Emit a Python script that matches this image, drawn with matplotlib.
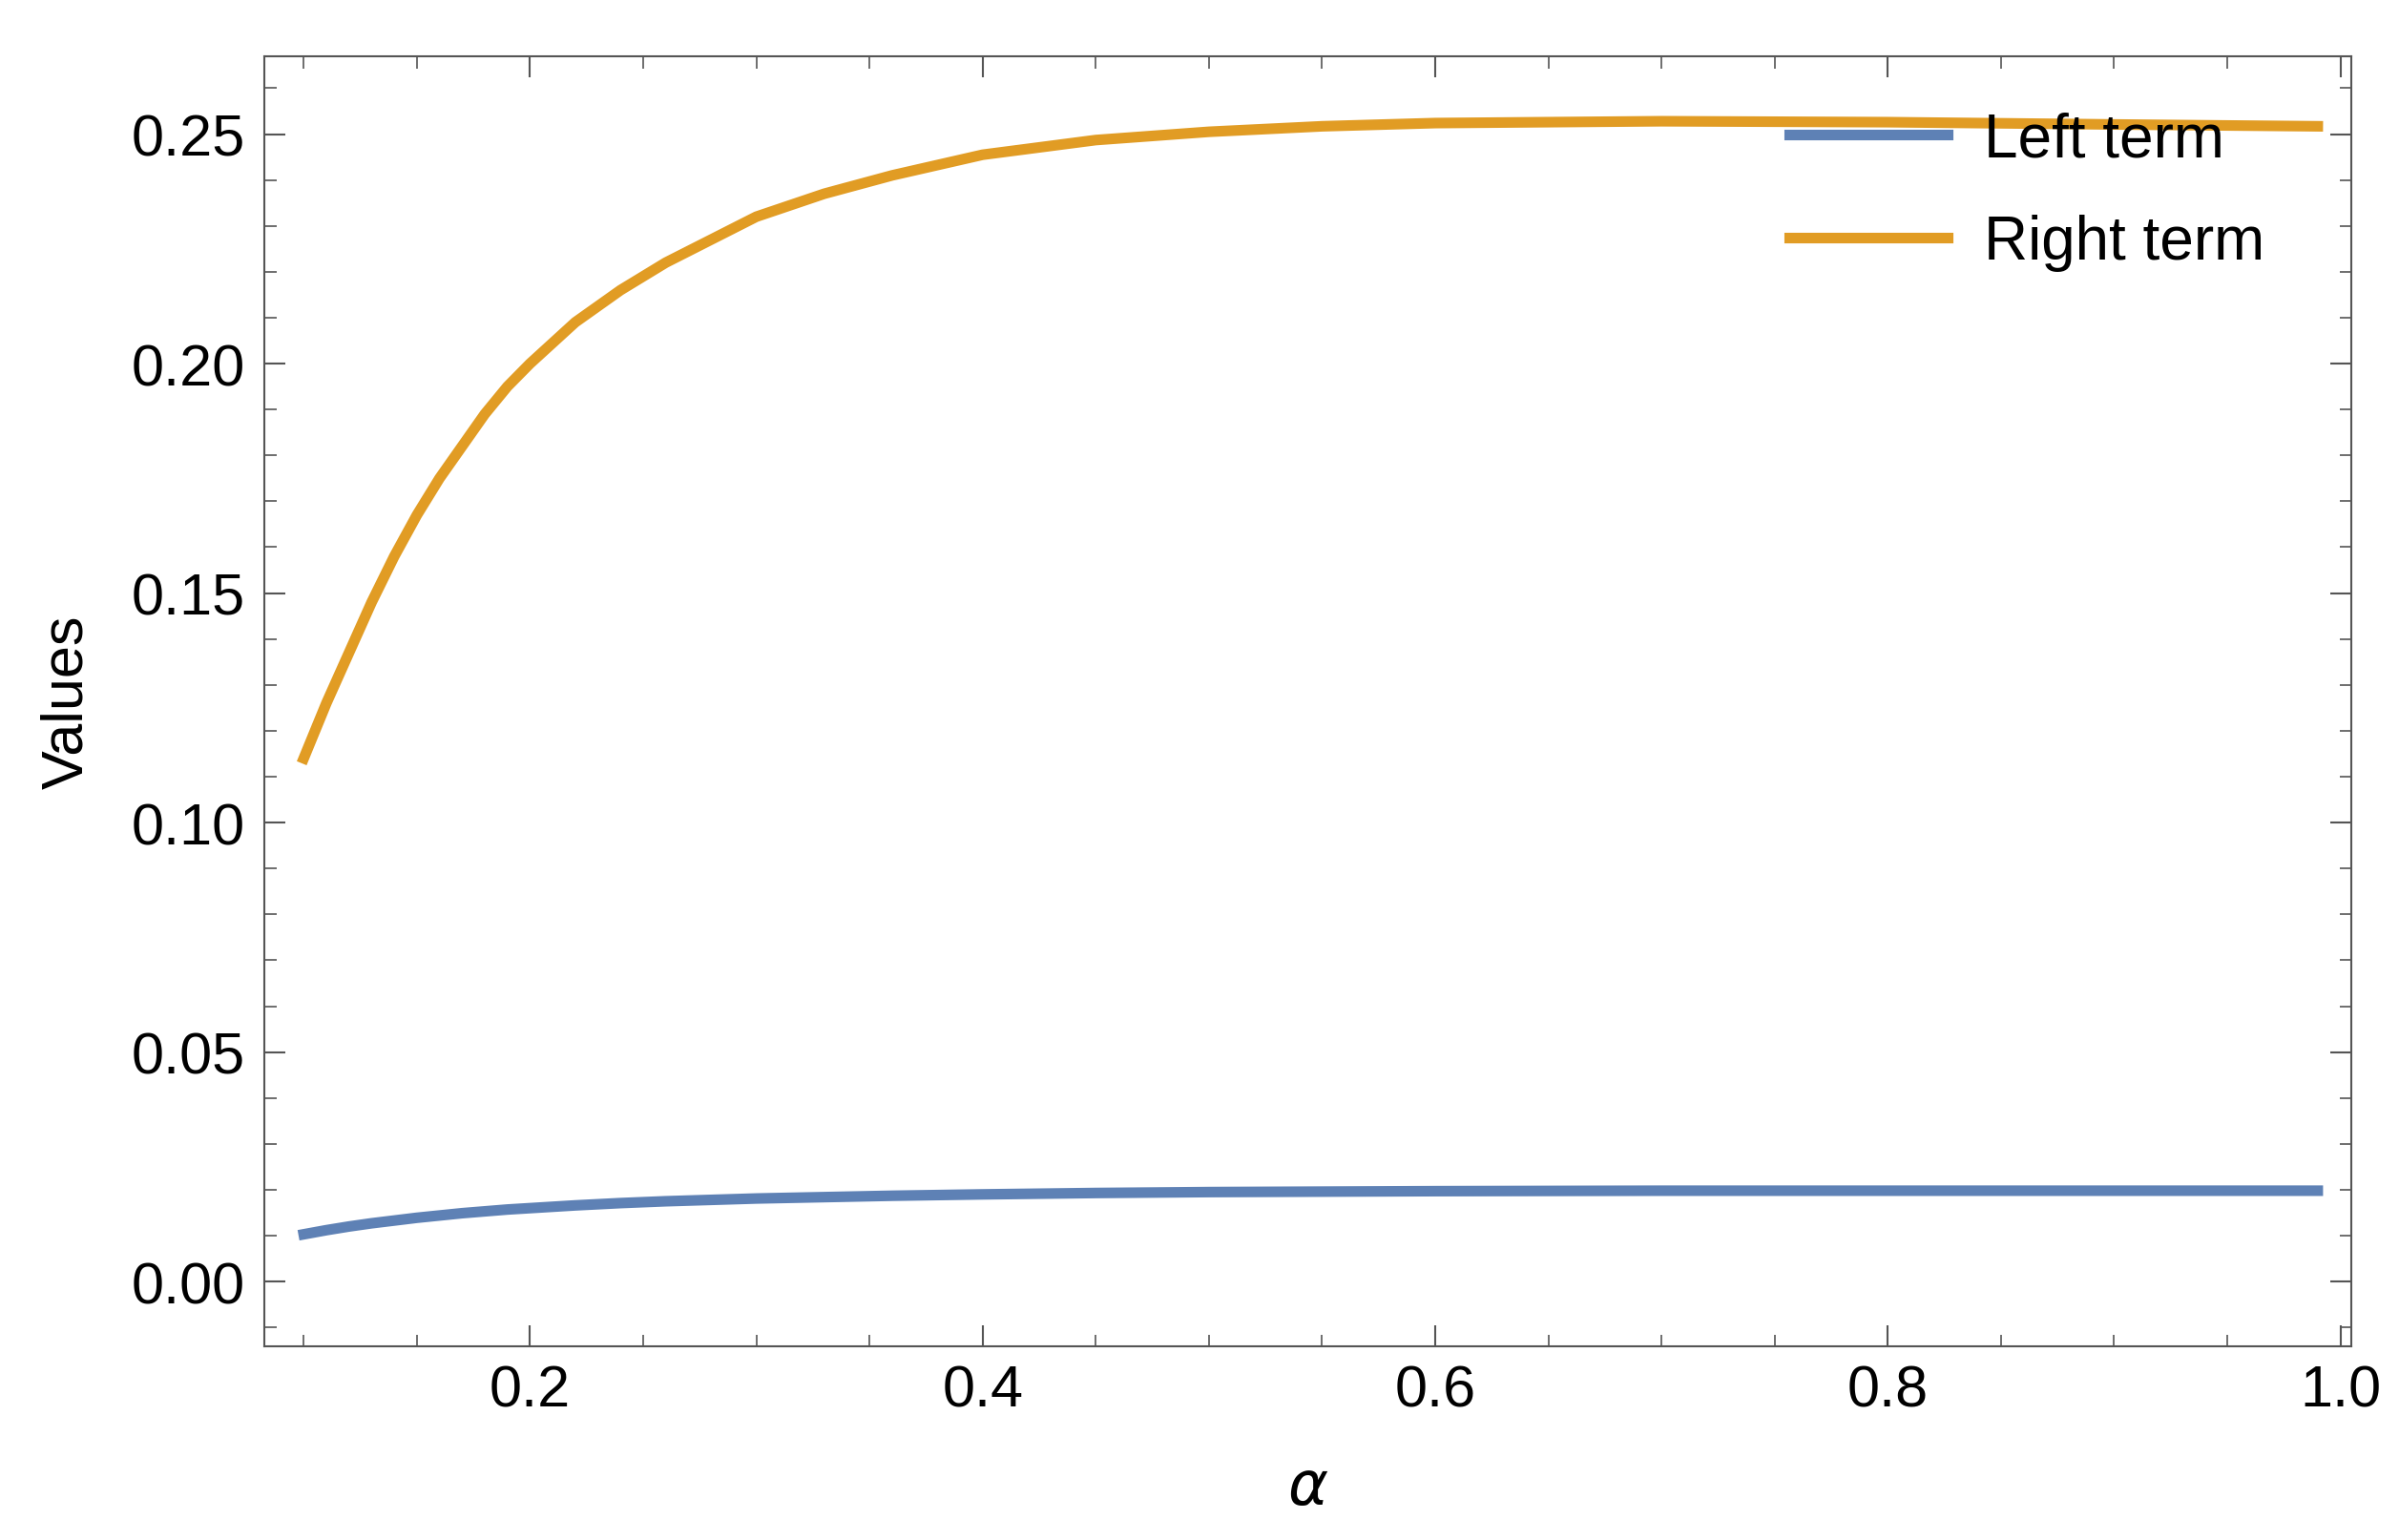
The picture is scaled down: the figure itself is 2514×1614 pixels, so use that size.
import matplotlib
matplotlib.use("Agg")
import matplotlib.pyplot as plt
from matplotlib.ticker import MultipleLocator, FormatStrFormatter

plt.rcParams["font.family"] = ["Liberation Sans", "DejaVu Sans"]

alpha = [0.1, 0.11, 0.12, 0.13, 0.14, 0.15, 0.16, 0.17, 0.18, 0.19, 0.2, 0.22, 0.24, 0.26,
         0.28, 0.3, 0.33, 0.36, 0.4, 0.45, 0.5, 0.55, 0.6, 0.7, 0.8, 0.9, 0.99]
right_term = [0.114, 0.126, 0.137, 0.148, 0.158, 0.167, 0.175, 0.182, 0.189, 0.195, 0.200,
              0.209, 0.216, 0.222, 0.227, 0.232, 0.237, 0.241, 0.2455, 0.2487, 0.2505,
              0.2517, 0.2524, 0.2528, 0.2526, 0.2521, 0.2517]
left_term = [0.0103, 0.0112, 0.0120, 0.0127, 0.0133, 0.0139, 0.0144, 0.0149, 0.0153, 0.0157,
             0.0160, 0.0166, 0.0171, 0.0175, 0.0178, 0.0181, 0.0184, 0.0187, 0.0190, 0.0193,
             0.0195, 0.0196, 0.0197, 0.0198, 0.0198, 0.0198, 0.0198]

fig = plt.figure(figsize=(25.14, 16.15), dpi=100)
ax = fig.add_axes([0.110, 0.126, 0.870, 0.837])
ax.plot(alpha, left_term, color="#5e81b5", lw=8, label="Left term")
ax.plot(alpha, right_term, color="#e19c24", lw=8, label="Right term")

ax.set_xlim(0.0824, 1.0047)
ax.set_ylim(-0.014, 0.267)
ax.xaxis.set_major_locator(MultipleLocator(0.2))
ax.xaxis.set_minor_locator(MultipleLocator(0.05))
ax.yaxis.set_major_locator(MultipleLocator(0.05))
ax.yaxis.set_minor_locator(MultipleLocator(0.01))
ax.xaxis.set_major_formatter(FormatStrFormatter("%.1f"))
ax.yaxis.set_major_formatter(FormatStrFormatter("%.2f"))
ax.tick_params(which="both", direction="in", top=True, right=True, colors="#555555",
               labelcolor="black", labelsize=44, pad=14)
ax.tick_params(which="major", length=16, width=1.5)
ax.tick_params(which="minor", length=9, width=1.2)
for s in ax.spines.values():
    s.set_color("#555555")
    s.set_linewidth(1.5)

ax.set_xlabel(r"$\alpha$", fontsize=46, labelpad=30)
ax.set_ylabel("Values", fontsize=44, labelpad=28)
ax.legend(loc="upper right", frameon=False, fontsize=46, handlelength=2.6,
          handletextpad=0.6, labelspacing=0.75, bbox_to_anchor=(0.985, 1.0))

fig.savefig("out.png", dpi=100)
